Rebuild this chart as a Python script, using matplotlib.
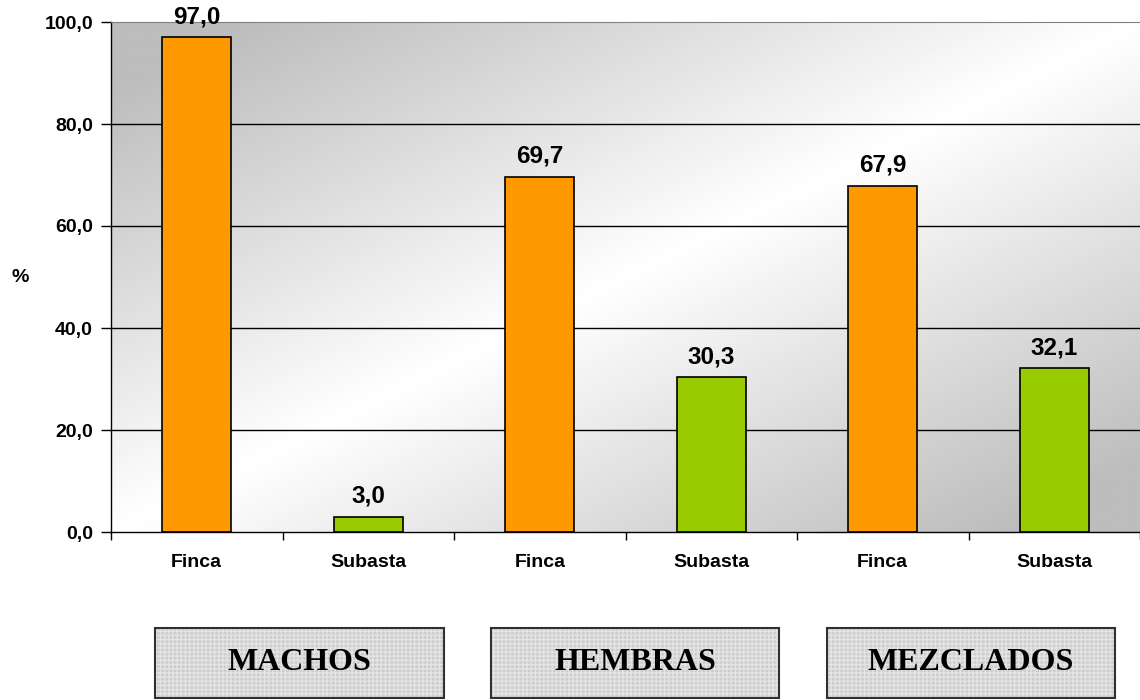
import matplotlib.pyplot as plt
import numpy as np
from matplotlib.patches import Rectangle
from matplotlib.ticker import FixedLocator, FuncFormatter

# data
categorias = ['Finca', 'Subasta', 'Finca', 'Subasta', 'Finca', 'Subasta']
valores = [97.0, 3.0, 69.7, 30.3, 67.9, 32.1]
colores = ['#FF9900', '#99CC00', '#FF9900', '#99CC00', '#FF9900', '#99CC00']
grupos = ['MACHOS', 'HEMBRAS', 'MEZCLADOS']
yticks = [0, 20, 40, 60, 80, 100]

def coma(v, pos=None):
    return f'{v:.1f}'.replace('.', ',')

fig = plt.figure(figsize=(11.4, 7.0), dpi=100)
ax = fig.add_axes([111/1140, 168/700, 1 - 111/1140, (532 - 22)/700])

x = np.arange(len(categorias))
ax.set_xlim(-0.5, len(categorias) - 0.5)
ax.set_ylim(0, 100)

# diagonal gray -> white -> gray background
gx, gy = np.meshgrid(np.linspace(0, 1, 300), np.linspace(0, 1, 300))
g = 1 - 0.26 * np.clip(np.abs(gx - gy) * 1.15, 0, 1)
ax.imshow(g, cmap='gray', vmin=0, vmax=1, extent=[-0.5, len(categorias) - 0.5, 0, 100],
          origin='lower', aspect='auto', zorder=0, interpolation='bilinear')

for yv in yticks[1:-1]:
    ax.axhline(yv, color='black', lw=1.0, zorder=1)

barras = ax.bar(x, valores, width=0.4, color=colores, edgecolor='black', lw=1.2, zorder=2)
for b, v in zip(barras, valores):
    ax.text(b.get_x() + b.get_width() / 2, v + 1.8, coma(v), ha='center', va='bottom',
            fontsize=17.5, fontweight='bold', family='Liberation Sans', zorder=3)

ax.spines['top'].set_color('#808080')
ax.spines['right'].set_visible(False)
ax.spines['left'].set_linewidth(1.0)
ax.spines['bottom'].set_linewidth(1.0)

ax.yaxis.set_major_locator(FixedLocator(yticks))
ax.yaxis.set_major_formatter(FuncFormatter(coma))
ax.set_xticks(x)
ax.set_xticklabels(categorias)
ax.xaxis.set_minor_locator(FixedLocator(np.arange(-0.5, len(categorias), 1.0)))
ax.tick_params(axis='x', which='major', length=0, pad=16)
ax.tick_params(axis='x', which='minor', length=6, width=1.0, direction='out')
ax.tick_params(axis='y', length=7, width=1.0, direction='out', pad=6)
for lab in ax.get_xticklabels() + ax.get_yticklabels():
    lab.set_fontsize(14)
    lab.set_fontweight('bold')
    lab.set_family('Liberation Sans')

fig.text(20/1140, 1 - 278/700, '%', ha='center', va='center', fontsize=14,
         fontweight='bold', family='Liberation Sans')

# group boxes under the chart
cajas = [(155, 444), (491, 779), (827, 1115)]
for (x0, x1), nombre in zip(cajas, grupos):
    r = Rectangle((x0/1140, 2/700), (x1 - x0)/1140, 70/700, transform=fig.transFigure,
                  facecolor='#cdcdcd', edgecolor='#e4e4e4', hatch='++++', lw=0)
    fig.patches.append(r)
    borde = Rectangle((x0/1140, 2/700), (x1 - x0)/1140, 70/700, transform=fig.transFigure,
                      facecolor='none', edgecolor='#303030', lw=1.5)
    fig.patches.append(borde)
    fig.text((x0 + x1) / 2 / 1140, 1 - 662/700, nombre, ha='center', va='center',
             fontsize=23, fontweight='bold', family='Liberation Serif')

fig.savefig('out.png', dpi=100)
